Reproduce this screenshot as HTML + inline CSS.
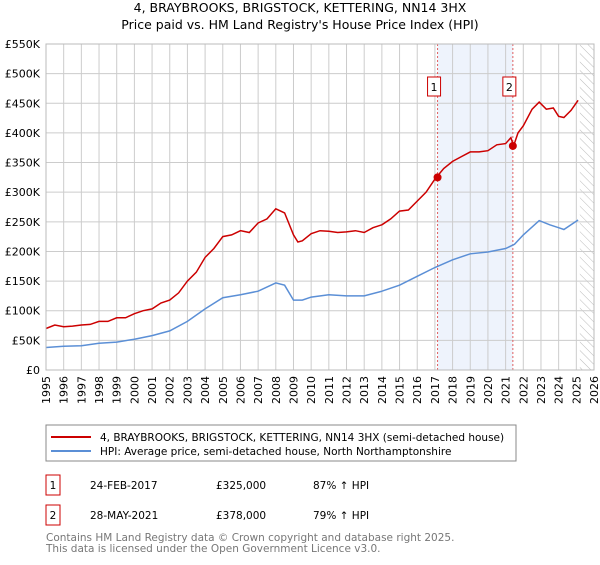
<!DOCTYPE html>
<html><head><meta charset="utf-8">
<style>
body{margin:0;background:#fff;font-family:"Liberation Sans","DejaVu Sans",sans-serif;}
svg text{font-family:"DejaVu Sans","Liberation Sans",sans-serif;}
</style></head>
<body>
<svg id="c" width="600" height="560" xmlns="http://www.w3.org/2000/svg">
<defs><pattern id="hatch" width="6" height="6" patternUnits="userSpaceOnUse" patternTransform="rotate(-45)"><line x1="0" y1="0" x2="0" y2="6" stroke="#bbb" stroke-width="1"/></pattern></defs>
<text x="300" y="12" font-size="12.5" text-anchor="middle">4, BRAYBROOKS, BRIGSTOCK, KETTERING, NN14 3HX</text>
<text x="300" y="29" font-size="12.5" text-anchor="middle">Price paid vs. HM Land Registry's House Price Index (HPI)</text>
<g id="grid"></g><g id="marks"></g><g id="axes"></g>
<rect x="46" y="425" width="470" height="36" fill="#fff" stroke="#888"/>
<line x1="51" y1="437" x2="91" y2="437" stroke="#cc0000" stroke-width="2"/>
<text x="100" y="441" font-size="10.5">4, BRAYBROOKS, BRIGSTOCK, KETTERING, NN14 3HX (semi-detached house)</text>
<line x1="51" y1="451" x2="91" y2="451" stroke="#5b8fd6" stroke-width="2"/>
<text x="100" y="455" font-size="10.5">HPI: Average price, semi-detached house, North Northamptonshire</text>
<g>
<rect x="46" y="475" width="14" height="20" fill="#fff" stroke="#cc0000"/><text x="53" y="489" font-size="10.5" text-anchor="middle">1</text>
<text x="90" y="489" font-size="10.5">24-FEB-2017</text><text x="216" y="489" font-size="10.5">£325,000</text><text x="313" y="489" font-size="10.5">87% ↑ HPI</text></g>
<g>
<rect x="46" y="505" width="14" height="20" fill="#fff" stroke="#cc0000"/><text x="53" y="519" font-size="10.5" text-anchor="middle">2</text>
<text x="90" y="519" font-size="10.5">28-MAY-2021</text><text x="216" y="519" font-size="10.5">£378,000</text><text x="313" y="519" font-size="10.5">79% ↑ HPI</text></g>
<text x="46" y="541" font-size="10.5" fill="#777">Contains HM Land Registry data © Crown copyright and database right 2025.</text>
<text x="46" y="552" font-size="10.5" fill="#777">This data is licensed under the Open Government Licence v3.0.</text>
</svg>
<script>
const redYears=[1995,1995.5,1996,1996.5,1997,1997.5,1998,1998.5,1999,1999.5,2000,2000.5,2001,2001.5,2002,2002.5,2003,2003.5,2004,2004.5,2005,2005.5,2006,2006.5,2007,2007.5,2008,2008.5,2009,2009.25,2009.5,2010,2010.5,2011,2011.5,2012,2012.5,2013,2013.5,2014,2014.5,2015,2015.5,2016,2016.5,2017,2017.5,2018,2018.5,2019,2019.5,2020,2020.5,2021,2021.3,2021.45,2021.7,2022,2022.5,2022.9,2023.3,2023.7,2024,2024.3,2024.7,2025.1];
const redValues=[70,76,73,74,76,77,82,82,88,88,95,100,103,113,118,130,150,165,190,205,225,228,235,232,248,255,272,265,228,216,218,230,235,234,232,233,235,232,240,245,255,268,270,285,300,322,340,352,360,368,368,370,380,382,392,378,400,412,440,452,440,442,428,426,438,455];
const hpiYears=[1995,1996,1997,1998,1999,2000,2001,2002,2003,2004,2005,2006,2007,2008,2008.5,2009,2009.5,2010,2011,2012,2013,2014,2015,2016,2017,2018,2019,2020,2021,2021.5,2022,2022.9,2023.5,2024,2024.3,2025.1];
const hpiValues=[38,40,41,45,47,52,58,66,82,103,122,127,133,147,143,118,118,123,127,125,125,133,143,158,173,186,196,199,205,212,228,252,245,240,237,253];
const saleYears=[2017.15,2021.41];
const saleValues=[325,378];
const saleLabels=["1","2"];
const yTicks=[0,50,100,150,200,250,300,350,400,450,500,550];
const yTickLabels=["£0","£50K","£100K","£150K","£200K","£250K","£300K","£350K","£400K","£450K","£500K","£550K"];
const xTicks=[1995,1996,1997,1998,1999,2000,2001,2002,2003,2004,2005,2006,2007,2008,2009,2010,2011,2012,2013,2014,2015,2016,2017,2018,2019,2020,2021,2022,2023,2024,2025,2026];

const L=46,R=594,T=44,B=370,X0=1995,X1=2026,YMAX=550;
const xs=v=>L+(v-X0)/(X1-X0)*(R-L);
const ys=v=>B-v/YMAX*(B-T);
const NS="http://www.w3.org/2000/svg";
function mk(p,tag,attrs){const e=document.createElementNS(NS,tag);for(const k in attrs)e.setAttribute(k,attrs[k]);p.appendChild(e);return e;}
const grid=document.getElementById('grid'),marks=document.getElementById('marks'),axes=document.getElementById('axes');
mk(grid,'rect',{x:L,y:T,width:R-L,height:B-T,fill:'#fff'});
const band=mk(grid,'rect',{x:xs(saleYears[0]),y:T,width:xs(saleYears[1])-xs(saleYears[0]),height:B-T,fill:'#eef3fc'});


const hx=xs(2025.2);
const hatch=mk(grid,'rect',{x:hx,y:T,width:R-hx,height:B-T,fill:'url(#hatch)'});


yTicks.forEach((v,i)=>{
 mk(grid,'line',{x1:L,x2:R,y1:ys(v),y2:ys(v),stroke:'#ccc'});
 const t=mk(axes,'text',{x:L-6,y:ys(v)+4,'font-size':11,'text-anchor':'end'});t.textContent=yTickLabels[i];
 
 
});
xTicks.forEach(v=>{
 mk(grid,'line',{x1:xs(v),x2:xs(v),y1:T,y2:B,stroke:'#ccc'});
 const t=mk(axes,'text',{x:xs(v)+4,y:B+6,'font-size':11,'text-anchor':'end',transform:`rotate(-90 ${xs(v)+4} ${B+6})`});t.textContent=v;
 
 
});
mk(axes,'rect',{x:L,y:T,width:R-L,height:B-T,fill:'none',stroke:'#bbb'});
saleYears.forEach((v,i)=>{
 const ln=mk(marks,'line',{x1:xs(v),x2:xs(v),y1:T,y2:B,stroke:'#e06060','stroke-dasharray':'2,2'});
 
 
 const bx=xs(v)-7;
 const r=mk(marks,'rect',{x:bx-3,y:T+33,width:13,height:19,fill:'#fff',stroke:'#cc0000'});
 
 
 const t=mk(marks,'text',{x:bx+3.5,y:T+47,'font-size':11,'text-anchor':'middle'});t.textContent=saleLabels[i];
});
function line(xa,ya,color,name){
 const d=xa.map((x,i)=>(i?'L':'M')+xs(x).toFixed(1)+','+ys(ya[i]).toFixed(1)).join('');
 const p=mk(marks,'path',{d:d,fill:'none',stroke:color,'stroke-width':1.5});
 
 
}
line(hpiYears,hpiValues,'#5b8fd6','hpi-line');
line(redYears,redValues,'#cc0000','property-price-line');
saleYears.forEach((v,i)=>{
 const c=mk(marks,'circle',{cx:xs(v),cy:ys(saleValues[i]),r:4,fill:'#cc0000'});
 
 
});
</script>
</body></html>
